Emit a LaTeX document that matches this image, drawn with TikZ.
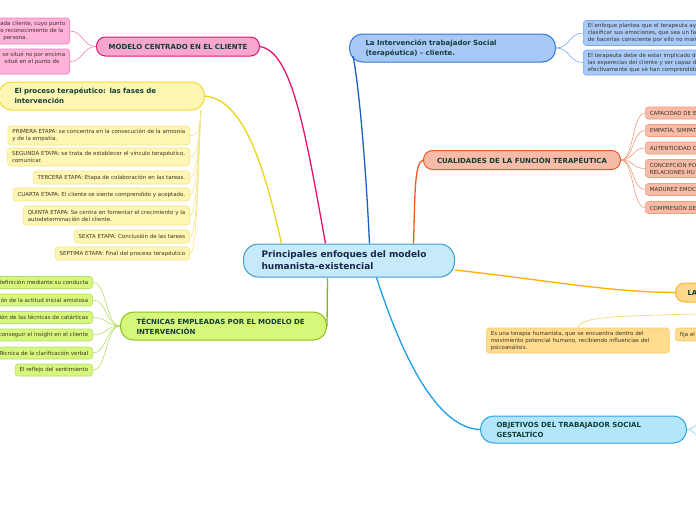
\documentclass[tikz,border=0pt]{standalone}
\usepackage{fontspec}
\setmainfont{DejaVu Sans}
\usetikzlibrary{calc}
\definecolor{headc}{HTML}{123F36}
\definecolor{bodyc}{HTML}{3A3426}
\definecolor{ctrf}{HTML}{C6EAF9}
\definecolor{ctrd}{HTML}{3E9AD5}
\definecolor{ctrt}{HTML}{18284A}
\definecolor{pinkf}{HTML}{F9A6CF}
\definecolor{pinkd}{HTML}{E6136E}
\definecolor{pinkk}{HTML}{FFB2D8}
\definecolor{pinkkd}{HTML}{F27AB5}
\definecolor{bluef}{HTML}{A8C8F8}
\definecolor{blued}{HTML}{3678DA}
\definecolor{bluekd}{HTML}{7AA7EF}
\definecolor{bluel}{HTML}{1A5FC8}
\definecolor{yelf}{HTML}{FFF6B3}
\definecolor{yeld}{HTML}{F0D83A}
\definecolor{yelkd}{HTML}{F3E486}
\definecolor{yell}{HTML}{E8D41E}
\definecolor{grnf}{HTML}{D6F77C}
\definecolor{grnd}{HTML}{8CC21F}
\definecolor{grnkd}{HTML}{B5DE66}
\definecolor{grnl}{HTML}{8DB31E}
\definecolor{salf}{HTML}{F8BBA7}
\definecolor{sald}{HTML}{EE5A26}
\definecolor{salkd}{HTML}{F49A80}
\definecolor{orf}{HTML}{FFD98A}
\definecolor{ord}{HTML}{FCB42A}
\definecolor{orl}{HTML}{FFAE00}
\definecolor{orkf}{HTML}{FFDB8E}
\definecolor{orkd}{HTML}{F8CD6A}
\definecolor{objf}{HTML}{B3E5FB}
\definecolor{objd}{HTML}{2AA6E6}
\definecolor{objl}{HTML}{1C9FE0}
\begin{document}
\begin{tikzpicture}[x=1pt,y=-1pt,
  head/.style={draw, line width=1pt, font=\fontsize{7}{10}\selectfont\bfseries, text=headc, align=left, inner ysep=0pt, anchor=west},
  kid/.style={draw, line width=0.6pt, rounded corners=3pt, font=\fontsize{5.5}{7}\selectfont, text=bodyc, align=left, inner xsep=4.5pt, inner ysep=0pt},
  mainl/.style={line width=1.3pt},
  thinl/.style={line width=0.6pt}]
\useasboundingbox (0,0) rectangle (696,520);
\clip (0,0) rectangle (696,520);

% ---------- main nodes
\node[head, fill=ctrf, draw=ctrd, rounded corners=15pt, minimum height=33pt, text width=175pt, inner xsep=18pt, font=\fontsize{9}{12}\selectfont\bfseries, text=ctrt] (ctr) at (243,260.5) {Principales enfoques del modelo\\humanista-existencial};
\node[head, fill=pinkf, draw=pinkd, rounded corners=9pt, minimum height=19pt, minimum width=163pt, align=center, inner xsep=6pt] (mod) at (96,46.5) {MODELO CENTRADO EN EL CLIENTE};
\node[head, fill=bluef, draw=blued, rounded corners=13pt, minimum height=28pt, text width=174pt, inner xsep=16pt] (inter) at (349,48) {La Intervención trabajador Social\\(terapéutica) – cliente.};
\node[head, fill=yelf, draw=yeld, rounded corners=13pt, minimum height=28pt, text width=174pt, inner xsep=16pt] (proc) at (-2,96) {El proceso terapéutico: las fases de\\intervención};
\node[head, fill=grnf, draw=grnd, rounded corners=13pt, minimum height=28pt, text width=174pt, inner xsep=16pt] (tec) at (120,326) {TÉCNICAS EMPLEADAS POR EL MODELO DE\\INTERVENCIÓN};
\node[head, fill=salf, draw=sald, rounded corners=9pt, minimum height=19pt, minimum width=197pt, align=center, inner xsep=6pt] (cual) at (423,160) {CUALIDADES DE LA FUNCIÓN TERAPÉUTICA};
\node[head, fill=orf, draw=ord, rounded corners=9pt, minimum height=19pt, text width=56pt, inner xsep=12pt] (la) at (675,292.5) {LA};
\node[head, fill=objf, draw=objd, rounded corners=13pt, minimum height=27pt, text width=174pt, inner xsep=16pt] (obj) at (480,429.5) {OBJETIVOS DEL TRABAJADOR SOCIAL\\GESTALTÍCO};

% ---------- pink children
\node[kid, fill=pinkk, draw=pinkkd, anchor=east, minimum height=26pt] (p1) at (70,31) {ada cliente, cuyo punto\\o reconocimiento de la\\\hspace*{3pt}persona.};
\node[kid, fill=pinkk, draw=pinkkd, anchor=east, minimum height=25pt] (p2) at (70,61.5) {se situé no por encima\\\hspace*{2pt}situé en el punto de\\\mbox{}};

% ---------- blue children
\node[kid, fill=bluef, draw=bluekd, anchor=west, minimum height=25pt, text width=150pt] (b1) at (583,33) {El enfoque plantea que el terapeuta ayu\\clasificar sus emociones, que sea un fac\\de hacerlas consciente por ello no mane};
\node[kid, fill=bluef, draw=bluekd, anchor=west, minimum height=25pt, text width=150pt] (b2) at (583,62.5) {El terapeuta debe de estar implicado de\\las experecias del cliente y ser capaz de\\efectivamente que se han comprendido};

% ---------- phases
\node[kid, fill=yelf, draw=yelkd, anchor=east, minimum height=19pt] (f1) at (190,135.5) {PRIMERA ETAPA: se concentra en la consecución de la armonía\\y de la empatía.};
\node[kid, fill=yelf, draw=yelkd, anchor=east, minimum height=18pt] (f2) at (190,157) {SEGUNDA ETAPA: se trata de establecer el vínculo terapéutico,\\comunicar.};
\node[kid, fill=yelf, draw=yelkd, anchor=east, minimum height=13pt] (f3) at (190,177.5) {TERCERA ETAPA: Etapa de colaboración en las tareas.};
\node[kid, fill=yelf, draw=yelkd, anchor=east, minimum height=13pt] (f4) at (190,194.5) {CUARTA ETAPA: El cliente se siente comprendido y aceptado.};
\node[kid, fill=yelf, draw=yelkd, anchor=east, minimum height=19pt] (f5) at (190,215.5) {QUINTA ETAPA: Se centra en fomentar el crecimiento y la\\autodeterminación del cliente.};
\node[kid, fill=yelf, draw=yelkd, anchor=east, minimum height=13pt] (f6) at (190,236.5) {SEXTA ETAPA: Conclusión de las tareas};
\node[kid, fill=yelf, draw=yelkd, anchor=east, minimum height=13pt] (f7) at (190,253.5) {SEPTIMA ETAPA: Final del proceso terapéutico};

% ---------- green children
\node[kid, fill=grnf, draw=grnkd, anchor=east, minimum height=12pt] (g1) at (93,282.5) {definición mediante su conducta};
\node[kid, fill=grnf, draw=grnkd, anchor=east, minimum height=12pt] (g2) at (93,300) {ción de la actitud inicial amistosa};
\node[kid, fill=grnf, draw=grnkd, anchor=east, minimum height=12pt] (g3) at (93,317.5) {ción de las técnicas de catárticas};
\node[kid, fill=grnf, draw=grnkd, anchor=east, minimum height=12pt] (g4) at (93,335) {conseguir el insight en el cliente};
\node[kid, fill=grnf, draw=grnkd, anchor=east, minimum height=12pt] (g5) at (93,353) {Técnica de la clarificación verbal};
\node[kid, fill=grnf, draw=grnkd, anchor=east, minimum height=12pt] (g6) at (93,370) {El reflejo del sentimiento};

% ---------- salmon children
\node[kid, fill=salf, draw=salkd, anchor=west, minimum height=12pt, text width=70pt] (c1) at (645,113) {CAPACIDAD DE E};
\node[kid, fill=salf, draw=salkd, anchor=west, minimum height=12pt, text width=70pt] (c2) at (645,130.5) {EMPATÍA, SIMPAT};
\node[kid, fill=salf, draw=salkd, anchor=west, minimum height=12pt, text width=70pt] (c3) at (645,148) {AUTENTICIDAD C};
\node[kid, fill=salf, draw=salkd, anchor=west, minimum height=18pt, text width=70pt] (c4) at (645,168.5) {CONCEPCIÓN PO\\RELACIONES HU};
\node[kid, fill=salf, draw=salkd, anchor=west, minimum height=12pt, text width=70pt] (c5) at (645,189.5) {MADUREZ EMOC};
\node[kid, fill=salf, draw=salkd, anchor=west, minimum height=12pt, text width=70pt] (c6) at (645,207.5) {COMPRESIÓN DE};

% ---------- orange children
\node[kid, fill=orkf, draw=orkd, anchor=west, minimum height=25pt, text width=174pt] (l1) at (486,340.5) {Es una terapia humanista, que se encuentra dentro del\\movimiento potencial humano, recibiendo influencias del\\psicoanálisis.};
\node[kid, fill=orkf, draw=orkd, anchor=west, minimum height=13pt, text width=60pt] (l2) at (675,334.5) {fija el};
\coordinate (lk) at (700,314);
\coordinate (ok1) at (700,424);
\coordinate (ok2) at (700,436);

% ---------- main connectors
\draw[mainl, pinkd] ([xshift=-23.5pt]ctr.north) .. controls (305,130) and (292,52) .. (mod.east);
\draw[mainl, bluel] ([xshift=20.5pt]ctr.north) .. controls (365,150) and (358,80) .. ([shift={(4,8)}]inter.west);
\draw[mainl, yell] ([xshift=-67.5pt]ctr.north) .. controls (265,170) and (245,100) .. (proc.east);
\draw[mainl, sald] ([xshift=64.5pt]ctr.north) .. controls (415,200) and (414,162) .. (cual.west);
\draw[mainl, grnl] ([xshift=-21.5pt]ctr.south) -- (tec.east);
\draw[mainl, orl] ([yshift=-9.5pt]ctr.east) .. controls (560,282) and (610,292) .. (la.west);
\draw[mainl, objl] ([xshift=27.5pt]ctr.south) .. controls (400,350) and (435,428) .. (obj.west);

% ---------- child connectors
\foreach \k in {p1,p2} \draw[thinl, pinkkd] (mod.west) .. controls +(-13,0) and +(13,0) .. (\k.east);
\foreach \k in {b1,b2} \draw[thinl, bluekd] (inter.east) .. controls +(14,0) and +(-14,0) .. (\k.west);
\foreach \k in {f1,f2,f3,f4,f5,f6,f7} \draw[thinl, yelkd] ([xshift=-4pt]proc.south east) .. controls +(-2,22) and +(8,0) .. (\k.east);
\foreach \k in {g1,g2,g3,g4,g5,g6} \draw[thinl, grnkd] (tec.west) .. controls +(-14,0) and +(14,0) .. (\k.east);
\foreach \k in {c1,c2,c3,c4,c5,c6} \draw[thinl, salkd] (cual.east) .. controls +(13,0) and +(-13,0) .. (\k.west);
\draw[thinl, orkd] (lk) .. controls (600,316) and (582,318) .. (l1.north);
\draw[thinl, objd!60] (obj.east) .. controls +(6,0) and +(-5,0) .. (ok1);
\draw[thinl, objd!60] (obj.east) .. controls +(6,0) and +(-5,0) .. (ok2);
\end{tikzpicture}
\end{document}
